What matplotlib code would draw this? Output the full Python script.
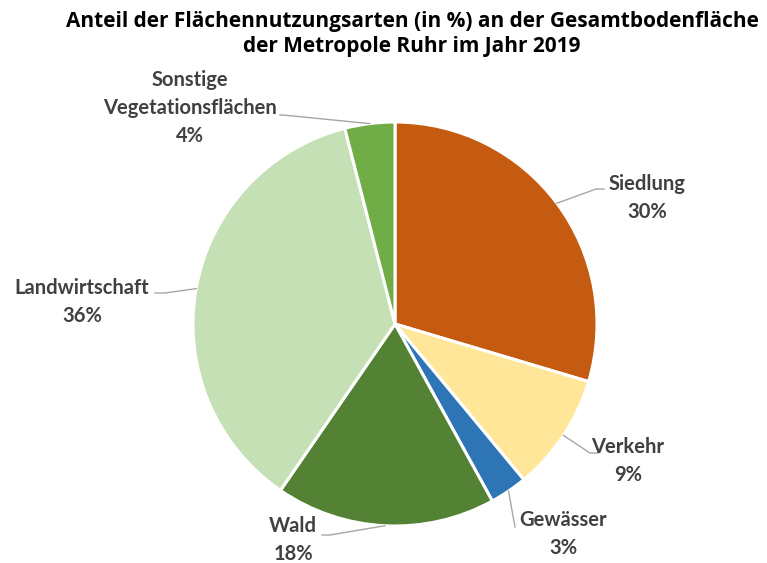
import numpy as np
import matplotlib.pyplot as plt

# data
categories = ["Siedlung", "Verkehr", "Gewässer", "Wald", "Landwirtschaft",
              "Sonstige\nVegetationsflächen"]
shares = [29.6, 9.4, 3.0, 17.6, 36.4, 4.0]
colors = ["#C55A11", "#FFE699", "#2E75B6", "#548235", "#C5E0B4", "#70AD47"]
title = "Anteil der Flächennutzungsarten (in %) an der Gesamtbodenfläche\nder Metropole Ruhr im Jahr 2019"

W, H = 767, 563
fig = plt.figure(figsize=(W / 100, H / 100), dpi=100)
ax = fig.add_axes([0, 0, 1, 1])

# pie in pixel coordinates (y measured from bottom)
cx, cy, r = 395, H - 324, 202
wedges, _ = ax.pie(shares, colors=colors, startangle=90, counterclock=False,
                   center=(cx, cy), radius=r, frame=True,
                   wedgeprops=dict(edgecolor="white", linewidth=2.2))
ax.set_xlim(0, W)
ax.set_ylim(0, H)
ax.set_aspect("equal")
ax.axis("off")

# label layout: (elbow, line end, text centre) in pixels from top-left
layout = [
    ((596, 189), (604, 189), (647, 198)),
    ((590, 453), (598, 453), (628, 461)),
    ((515, 527), (515, 527), (563, 534)),
    ((330, 535), (322, 535), (293, 540)),
    ((165, 293), (155, 293), (82, 302)),
    ((283, 115), (280, 115), (190, 108)),
]

for w, cat, val, (elb, end, txt) in zip(wedges, categories, shares, layout):
    mid = np.deg2rad((w.theta1 + w.theta2) / 2)
    x0, y0 = cx + r * np.cos(mid), cy + r * np.sin(mid)
    ax.plot([x0, elb[0], end[0]], [y0, H - elb[1], H - end[1]],
            color="#A6A6A6", linewidth=1)
    ax.text(txt[0], H - txt[1], f"{cat}\n{val:.0f}%", ha="center", va="center",
            fontsize=14.5, fontweight="bold", color="#404040", family="Lato",
            linespacing=1.5)

fig.text(412 / W, 1 - 34 / H, title, ha="center", va="center", fontsize=15,
         fontweight="bold", color="black", family="Open Sans", linespacing=1.25)

fig.savefig("out.png", dpi=100)
